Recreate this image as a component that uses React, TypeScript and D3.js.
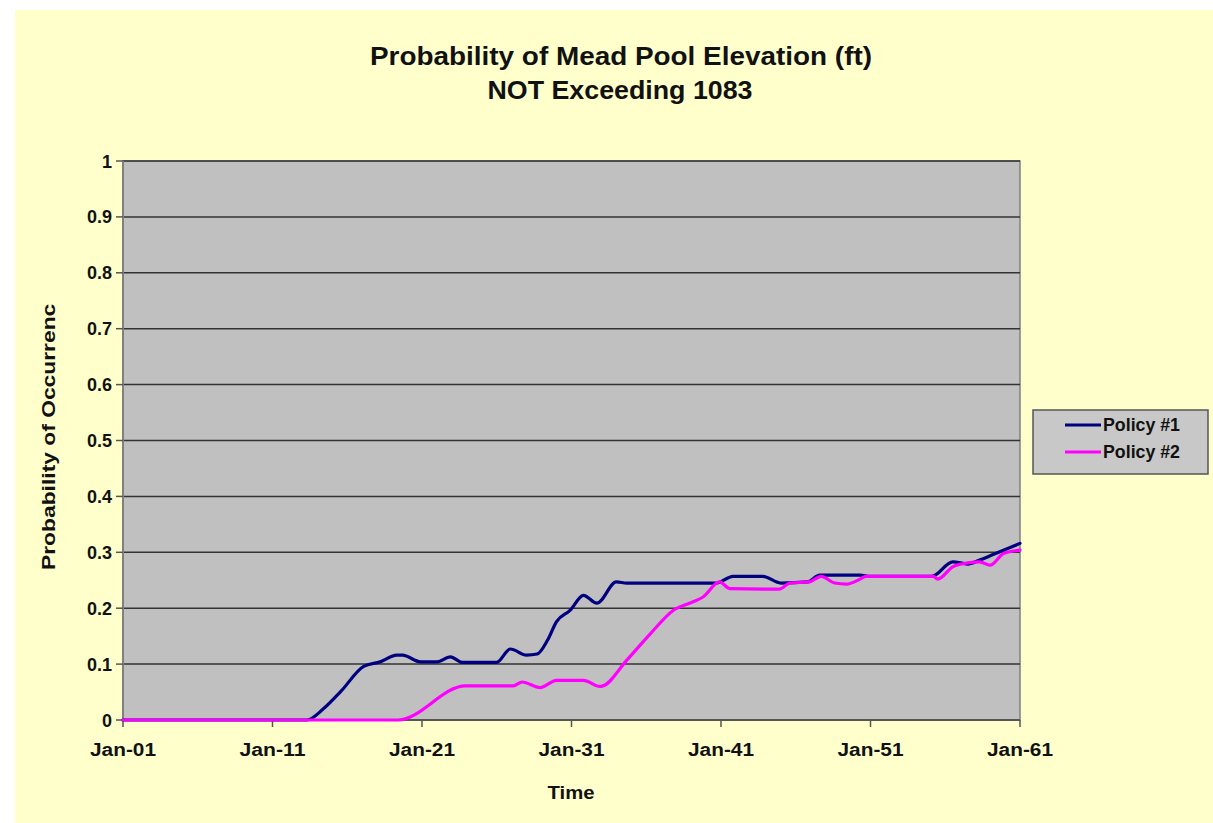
import { useMemo } from "react";
import { scaleLinear, line, curveMonotoneX } from "d3";

// years after Jan-01 and probability values
const policy1Years = [0, 12.3, 13.4, 14.6, 16.1, 17.2, 18.3, 18.7, 19.9, 21.0, 21.9, 22.7, 25.0, 25.9, 27.0, 27.7, 28.4, 29.0, 29.9, 30.8, 31.7, 33.0, 33.7, 39.7, 40.8, 42.8, 44.0, 45.8, 46.6, 49.3, 50.0, 54.1, 55.5, 56.5, 57.3, 58.2, 60.0];
const policy1Values = [0, 0, 0.02, 0.052, 0.096, 0.104, 0.116, 0.116, 0.104, 0.104, 0.113, 0.103, 0.103, 0.127, 0.116, 0.118, 0.143, 0.176, 0.196, 0.223, 0.209, 0.247, 0.245, 0.245, 0.257, 0.257, 0.245, 0.247, 0.259, 0.259, 0.257, 0.257, 0.283, 0.279, 0.286, 0.296, 0.316];

const policy2Years = [0, 18.4, 22.9, 26.1, 26.7, 27.9, 29.0, 30.8, 31.9, 32.1, 33.7, 35.3, 36.8, 38.1, 38.8, 39.9, 40.6, 43.9, 44.6, 45.9, 46.7, 47.6, 48.4, 49.3, 49.7, 54.2, 54.5, 55.5, 56.5, 57.3, 58.0, 58.9, 60.0];
const policy2Values = [0, 0, 0.061, 0.061, 0.068, 0.058, 0.071, 0.071, 0.06, 0.061, 0.107, 0.155, 0.196, 0.211, 0.22, 0.247, 0.235, 0.234, 0.245, 0.247, 0.257, 0.245, 0.243, 0.252, 0.257, 0.257, 0.252, 0.274, 0.281, 0.283, 0.277, 0.298, 0.304];

const xTickYears = [0, 10, 20, 30, 40, 50, 60];
const xTickLabels = ["Jan-01", "Jan-11", "Jan-21", "Jan-31", "Jan-41", "Jan-51", "Jan-61"];
const yTicks = [0, 0.1, 0.2, 0.3, 0.4, 0.5, 0.6, 0.7, 0.8, 0.9, 1];

const seriesNames = ["Policy #1", "Policy #2"];
const seriesColors = ["#000080", "#ff00ff"];

const W = 1213;
const H = 823;
const FONT = "'Liberation Sans', Arial, sans-serif";

export default function App() {
  const plot = { left: 123, right: 1020, top: 161, bottom: 720 };

  const { x, y, paths } = useMemo(() => {
    const x = scaleLinear().domain([0, 60]).range([plot.left, plot.right]);
    const y = scaleLinear().domain([0, 1]).range([plot.bottom, plot.top]);
    const gen = line<[number, number]>()
      .x((d) => x(d[0]))
      .y((d) => y(d[1]))
      .curve(curveMonotoneX);
    const s1 = policy1Years.map((t, i) => [t, policy1Values[i]] as [number, number]);
    const s2 = policy2Years.map((t, i) => [t, policy2Values[i]] as [number, number]);
    return { x, y, paths: [gen(s1) || "", gen(s2) || ""] };
  }, []);

  return (
    <>
      <style>{`body{margin:0;background:#fff}`}</style>
      <svg width={W} height={H} style={{ display: "block", fontFamily: FONT }}>
        <defs>
          <clipPath id="ylabClip">
            <rect x={0} y={303} width={120} height={400} />
          </clipPath>
        </defs>
        {/* page background */}
        <rect x={15} y={10} width={W - 15} height={H - 10} fill="#ffffcc" />

        {/* title */}
        <text x={621} y={65} textAnchor="middle" fontSize={25} fontWeight="bold" fill="#111" textLength={502} lengthAdjust="spacingAndGlyphs">
          Probability of Mead Pool Elevation (ft)
        </text>
        <text x={620} y={99} textAnchor="middle" fontSize={25} fontWeight="bold" fill="#111" textLength={265} lengthAdjust="spacingAndGlyphs">
          NOT Exceeding 1083
        </text>

        {/* plot area */}
        <rect x={plot.left} y={plot.top} width={plot.right - plot.left} height={plot.bottom - plot.top} fill="#c0c0c0" stroke="#808080" strokeWidth={1.5} />

        {/* grid lines */}
        {yTicks.map((v) => (
          <line key={v} x1={plot.left} x2={plot.right} y1={y(v)} y2={y(v)} stroke="#333" strokeWidth={1.5} />
        ))}

        {/* y axis */}
        <line x1={plot.left} x2={plot.left} y1={plot.top} y2={plot.bottom} stroke="#808080" strokeWidth={2} />
        {yTicks.map((v) => (
          <g key={v}>
            <line x1={plot.left - 7} x2={plot.left} y1={y(v)} y2={y(v)} stroke="#555" strokeWidth={1.5} />
            <text x={112} y={y(v) + 6.5} textAnchor="end" fontSize={18} fontWeight="bold" fill="#111">
              {String(v)}
            </text>
          </g>
        ))}

        {/* x axis */}
        <line x1={plot.left} x2={plot.right} y1={plot.bottom} y2={plot.bottom} stroke="#555" strokeWidth={2} />
        {xTickYears.map((t, i) => (
          <g key={t}>
            <line x1={x(t)} x2={x(t)} y1={plot.bottom} y2={plot.bottom + 7} stroke="#555" strokeWidth={1.5} />
            <text x={x(t)} y={756} textAnchor="middle" fontSize={18} fontWeight="bold" fill="#111" textLength={66} lengthAdjust="spacingAndGlyphs">
              {xTickLabels[i]}
            </text>
          </g>
        ))}

        {/* axis titles */}
        <text x={571} y={799} textAnchor="middle" fontSize={19} fontWeight="bold" fill="#111" textLength={47} lengthAdjust="spacingAndGlyphs">
          Time
        </text>
        <g clipPath="url(#ylabClip)">
          <text transform="translate(55,570) rotate(-90)" fontSize={18} fontWeight="bold" fill="#111" textLength={279} lengthAdjust="spacingAndGlyphs">
            Probability of Occurrence
          </text>
        </g>

        {/* series */}
        {paths.map((d, i) => (
          <path key={i} d={d} fill="none" stroke={seriesColors[i]} strokeWidth={3.2} strokeLinejoin="round" strokeLinecap="round" />
        ))}

        {/* legend */}
        <rect x={1033} y={410} width={175} height={64} fill="#c8c8c8" stroke="#555" strokeWidth={1.5} />
        {seriesNames.map((n, i) => (
          <g key={n}>
            <line x1={1065} x2={1101} y1={425 + i * 27} y2={425 + i * 27} stroke={seriesColors[i]} strokeWidth={3.2} />
            <text x={1103} y={431 + i * 27} fontSize={18} fontWeight="bold" fill="#111" textLength={77} lengthAdjust="spacingAndGlyphs">
              {n}
            </text>
          </g>
        ))}
      </svg>
    </>
  );
}
